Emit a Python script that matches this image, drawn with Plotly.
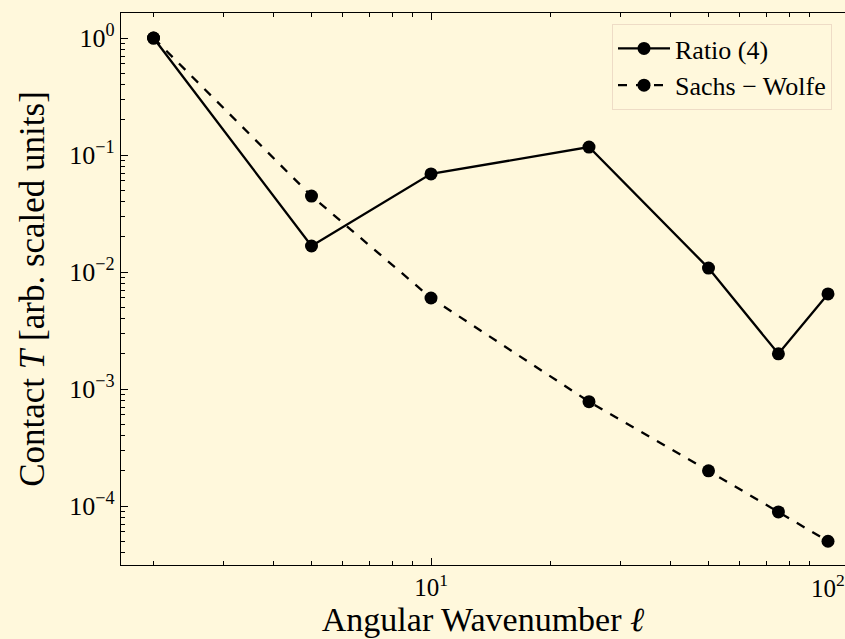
import plotly.graph_objects as go

ell = [2, 5, 10, 25, 50, 75, 100]
ratio4 = [1.0, 0.0167, 0.069, 0.117, 0.0108, 0.0020, 0.0065]
sachs_wolfe = [1.0, 0.0446, 0.0060, 0.00078, 0.00020, 0.000089, 0.000050]

ytick_vals = [1, 0.1, 0.01, 0.001, 0.0001]
ytick_text = ["10<sup>0</sup>", "10<sup>−1</sup>", "10<sup>−2</sup>", "10<sup>−3</sup>", "10<sup>−4</sup>"]
xtick_vals = [10, 100]
xtick_text = ["10<sup>1</sup>", "10<sup>2</sup>"]

bg = "#fff8dc"
font_family = "Liberation Serif, DejaVu Serif, serif"

xminor = [m * 10 ** k for k in range(0, 3) for m in range(2, 10)]
yminor = [m * 10.0 ** k for k in range(-5, 1) for m in range(2, 10)]

fig = go.Figure()
fig.add_trace(go.Scatter(
    x=ell, y=ratio4, mode="lines+markers", name="Ratio (4)",
    line=dict(color="black", width=2.3, dash="solid"),
    marker=dict(color="black", size=13),
))
fig.add_trace(go.Scatter(
    x=ell, y=sachs_wolfe, mode="lines+markers", name="Sachs − Wolfe",
    line=dict(color="black", width=2.3, dash="dash"),
    marker=dict(color="black", size=13),
))

# the last x tick label sits at the clipped right edge; draw it as an annotation
fig.add_annotation(
    x=2, xref="x", y=0, yref="paper", yanchor="top", xanchor="center",
    text=xtick_text[1], showarrow=False, yshift=-3,
    font=dict(family=font_family, size=25, color="black"),
)

fig.update_layout(
    width=845, height=639,
    margin=dict(l=121, r=0, t=13, b=74),
    paper_bgcolor=bg, plot_bgcolor=bg,
    font=dict(family=font_family, color="black", size=26),
    showlegend=True,
    legend=dict(
        x=(612 - 121) / (845 - 121), y=1 - (24 - 13) / (565 - 13),
        xanchor="left", yanchor="top",
        bgcolor=bg, bordercolor="#eedcc6", borderwidth=1,
        font=dict(family=font_family, size=26, color="black"),
        tracegroupgap=0, itemwidth=52,
    ),
    xaxis=dict(
        type="log", range=[0.2191, 2.0428],
        showgrid=False, zeroline=False,
        showline=True, linecolor="black", linewidth=1.3, mirror="ticks",
        ticks="inside", ticklen=7, tickwidth=1.1, tickcolor="black",
        tickmode="array", tickvals=xtick_vals[:1], ticktext=xtick_text[:1],
        tickfont=dict(size=25),
        minor=dict(ticks="inside", ticklen=4, tickwidth=1, tickcolor="black",
                   tickmode="array", tickvals=xminor, showgrid=False),
        title=dict(text="Angular Wavenumber <i>ℓ</i>", font=dict(size=34), standoff=0),
    ),
    yaxis=dict(
        type="log", range=[-4.504, 0.214],
        showgrid=False, zeroline=False,
        showline=True, linecolor="black", linewidth=1.3, mirror=False,
        ticks="inside", ticklen=7, tickwidth=1.1, tickcolor="black",
        tickmode="array", tickvals=ytick_vals, ticktext=ytick_text,
        tickfont=dict(size=26),
        minor=dict(ticks="inside", ticklen=4, tickwidth=1, tickcolor="black",
                   tickmode="array", tickvals=yminor, showgrid=False),
        title=dict(text="Contact <i>T</i> [arb. scaled units]", font=dict(size=35), standoff=14),
    ),
)

fig.write_html("out.html")
